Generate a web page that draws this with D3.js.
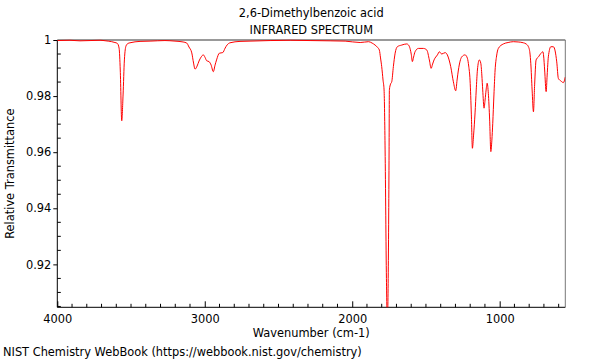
<!DOCTYPE html>
<html>
<head>
<meta charset="utf-8">
<script src="https://cdn.jsdelivr.net/npm/d3@7"></script>
<style>
  html, body { margin: 0; padding: 0; background: #fff; }
  svg { display: block; font-family: "DejaVu Sans", sans-serif; }
</style>
</head>
<body>
<svg id="chart" width="600" height="360"></svg>
<script>
const titleLines = ["2,6-Dimethylbenzoic acid", "INFRARED SPECTRUM"];
const xLabel = "Wavenumber (cm-1)";
const yLabel = "Relative Transmittance";
const footer = "NIST Chemistry WebBook (https://webbook.nist.gov/chemistry)";
const xTickValues = [4000, 3000, 2000, 1000];
const yTickValues = [1, 0.98, 0.96, 0.94, 0.92];

// Spectrum: wavenumber (cm-1) and relative transmittance
const wavenumber = [
  4000, 3914, 3846, 3778, 3710, 3670, 3631, 3609, 3593, 3581, 3573, 3563, 3554, 3545, 3534, 3520, 3507,
  3439, 3371, 3270, 3202, 3147, 3122, 3107, 3088, 3076, 3066, 3052, 3039, 3025, 3010, 2998, 2987,
  2971, 2957, 2942, 2930, 2920, 2901, 2878, 2862, 2849, 2829, 2761, 2693, 2557, 2421, 2286, 2150,
  2048, 1946, 1889, 1865, 1845, 1827, 1816, 1808, 1800, 1791, 1784, 1777, 1768, 1762, 1756, 1750,
  1748, 1740, 1732, 1721, 1709, 1694, 1664, 1630, 1618, 1608, 1599, 1592, 1584, 1574, 1551, 1517,
  1494, 1477, 1465, 1455, 1445, 1422, 1409, 1393, 1370, 1355, 1343, 1332, 1314, 1298, 1289, 1280,
  1257, 1235, 1219, 1210, 1201, 1192, 1185, 1177, 1167, 1159, 1151, 1138, 1128, 1121, 1115, 1106,
  1099, 1092, 1085, 1077, 1068, 1060, 1053, 1047, 1039, 1031, 1021, 1009, 975, 943, 907, 875, 839,
  821, 805, 795, 789, 780, 771, 763, 753, 737, 721, 707, 702, 695, 685, 678, 670, 653, 636, 624,
  613, 602, 585, 568, 555
];
const transmittance = [
  0.9998, 0.9999, 0.9997, 0.9998, 0.9999, 0.9997, 0.9994, 0.9991, 0.9988, 0.9971, 0.9893, 0.9712, 0.9804, 0.9929, 0.9979, 0.9988, 0.9990,
  0.9995, 0.9996, 0.9998, 0.9996, 0.9993, 0.9989, 0.9975, 0.9954, 0.9918, 0.9896, 0.9907, 0.9925, 0.9939, 0.9947, 0.9938, 0.9926,
  0.9923, 0.9911, 0.9887, 0.9911, 0.9929, 0.9953, 0.9955, 0.9971, 0.9982, 0.9990, 0.9995, 0.9996, 0.9998, 0.9999, 0.9998, 0.9997,
  0.9996, 0.9991, 0.9994, 0.9989, 0.9982, 0.9973, 0.9964, 0.9936, 0.9905, 0.9857, 0.9822, 0.9608, 0.9150, 0.8990, 0.9150, 0.9608,
  0.9822, 0.9843, 0.9851, 0.9905, 0.9953, 0.9976, 0.9982, 0.9986, 0.9982, 0.9970, 0.9947, 0.9923, 0.9939, 0.9958, 0.9970, 0.9970,
  0.9964, 0.9929, 0.9899, 0.9914, 0.9929, 0.9947, 0.9958, 0.9950, 0.9955, 0.9947, 0.9929, 0.9905, 0.9851, 0.9819, 0.9857, 0.9893,
  0.9940, 0.9947, 0.9935, 0.9907, 0.9857, 0.9733, 0.9614, 0.9661, 0.9740, 0.9822, 0.9893, 0.9929, 0.9917, 0.9875, 0.9822, 0.9757,
  0.9786, 0.9822, 0.9846, 0.9810, 0.9715, 0.9602, 0.9643, 0.9703, 0.9804, 0.9893, 0.9943, 0.9970, 0.9986, 0.9991, 0.9994, 0.9993, 0.9990,
  0.9986, 0.9976, 0.9954, 0.9917, 0.9822, 0.9744, 0.9840, 0.9929, 0.9940, 0.9952, 0.9958, 0.9943, 0.9893, 0.9816, 0.9875, 0.9940, 0.9976, 0.9976, 0.9961,
  0.9922, 0.9863, 0.9854, 0.9848, 0.9868
];

const svg = d3.select("#chart");
const margin = { left: 57.3, right: 565.3, top: 40, bottom: 307.3 };
const fs = 11.4;

const x = d3.scaleLinear().domain([4000, 555]).range([margin.left, margin.right]);
const y = d3.scaleLinear().domain([0.9047, 1]).range([margin.bottom, margin.top]);

// clip
svg.append("defs").append("clipPath").attr("id", "clip")
  .append("rect")
  .attr("x", margin.left).attr("y", margin.top - 2)
  .attr("width", margin.right - margin.left).attr("height", margin.bottom - margin.top + 2);

// top & right frame
svg.append("line").attr("x1", margin.left).attr("x2", margin.right)
  .attr("y1", margin.top).attr("y2", margin.top)
  .attr("stroke", "#999").attr("stroke-width", 2);
svg.append("line").attr("x1", margin.right).attr("x2", margin.right)
  .attr("y1", margin.top).attr("y2", margin.bottom)
  .attr("stroke", "#777").attr("stroke-width", 1);

// x axis
const xMinor = d3.range(4000, 554, -100).filter(v => v % 1000 !== 0);
const xAxisG = svg.append("g").attr("transform", `translate(0,${margin.bottom})`);
xAxisG.call(d3.axisBottom(x).tickValues(xTickValues).tickSize(-6).tickPadding(8).tickFormat(d3.format("d")));
xAxisG.call(g => g.select(".domain").attr("d", `M${margin.left},0H${margin.right}`));
xAxisG.selectAll("text").attr("font-size", fs).attr("font-family", "DejaVu Sans").attr("fill", "#000");
xAxisG.selectAll(".tick line").attr("stroke", "#000");
xAxisG.selectAll(".minor").data(xMinor).enter().append("line")
  .attr("class", "minor")
  .attr("x1", d => x(d)).attr("x2", d => x(d))
  .attr("y1", 0).attr("y2", -3.5).attr("stroke", "#000");

// y axis
const yMinor = d3.range(0, 20).map(i => +(1 - i * 0.005).toFixed(3)).filter(v => v >= 0.9047 && Math.round(v * 1000) % 20 !== 0);
const yAxisG = svg.append("g").attr("transform", `translate(${margin.left},0)`);
yAxisG.call(d3.axisLeft(y).tickValues(yTickValues).tickSize(4).tickPadding(2).tickFormat(d => d === 1 ? "1" : d3.format(".2f")(d)));
yAxisG.call(g => g.select(".domain").attr("d", `M0,${margin.top}V${margin.bottom}`));
yAxisG.selectAll("text").attr("font-size", fs).attr("font-family", "DejaVu Sans").attr("fill", "#000");
yAxisG.selectAll(".minor").data(yMinor).enter().append("line")
  .attr("class", "minor")
  .attr("y1", d => y(d)).attr("y2", d => y(d))
  .attr("x1", 0).attr("x2", 3.5).attr("stroke", "#000");

// spectrum
const data = wavenumber.map((w, i) => ({ w, t: transmittance[i] }));
svg.append("path")
  .datum(data)
  .attr("clip-path", "url(#clip)")
  .attr("fill", "none")
  .attr("stroke", "#ff0000")
  .attr("stroke-width", 1)
  .attr("d", d3.line().x(d => x(d.w)).y(d => y(d.t)).curve(d3.curveMonotoneX));

// titles
svg.selectAll(".title").data(titleLines).enter().append("text")
  .attr("x", (margin.left + margin.right) / 2)
  .attr("y", (d, i) => 17 + i * 17)
  .attr("text-anchor", "middle")
  .attr("font-size", fs)
  .text(d => d);

svg.append("text")
  .attr("x", (margin.left + margin.right) / 2).attr("y", 337)
  .attr("text-anchor", "middle").attr("font-size", fs).text(xLabel);

svg.append("text")
  .attr("transform", `translate(14,${(margin.top + margin.bottom) / 2}) rotate(-90)`)
  .attr("text-anchor", "middle").attr("font-size", fs).text(yLabel);

svg.append("text")
  .attr("x", 3).attr("y", 356)
  .attr("font-size", fs).text(footer);
</script>
</body>
</html>
